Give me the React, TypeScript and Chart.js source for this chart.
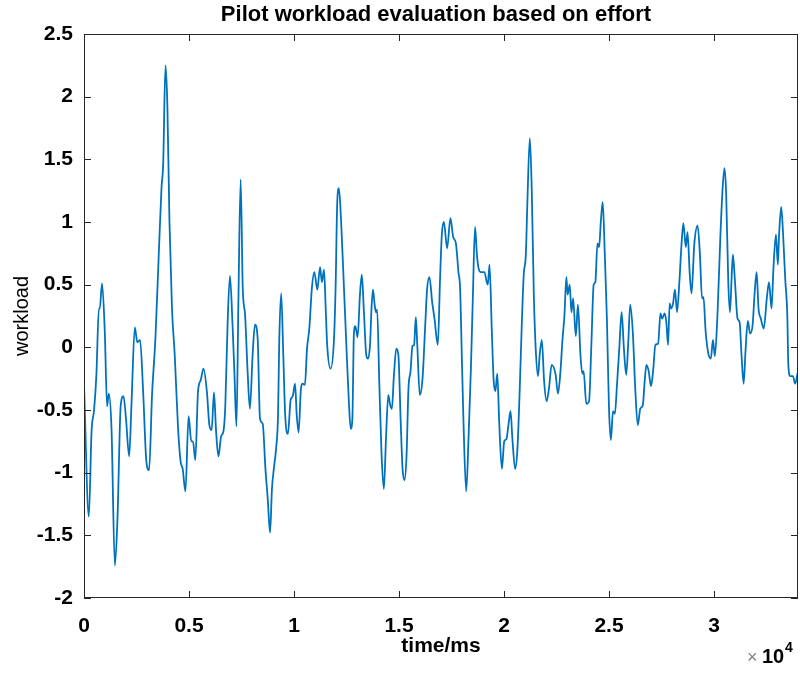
import { useEffect, useRef } from "react";
import { Chart, registerables } from "chart.js";

Chart.register(...registerables);

const chartTitle = "Pilot workload evaluation based on effort";
const xAxisTitle = "time/ms";
const yAxisTitle = "workload";
const xExponent = "4";

const xTickValues = [0, 5000, 10000, 15000, 20000, 25000, 30000];
const xTickLabels = ["0", "0.5", "1", "1.5", "2", "2.5", "3"];
const yTickValues = [-2, -1.5, -1, -0.5, 0, 0.5, 1, 1.5, 2, 2.5];
const yTickLabels = ["-2", "-1.5", "-1", "-0.5", "0", "0.5", "1", "1.5", "2", "2.5"];

const timeMs = [
  0, 230, 360, 480, 590, 710, 750, 860, 990, 1100, 1180, 1310, 1470, 1590, 1750, 1880, 2000, 2150, 2260, 2420,
  2540, 2670, 2810, 2970, 3100, 3240, 3400, 3560, 3690, 3770, 3880, 3970, 4070, 4190, 4320, 4480, 4600, 4700, 4830, 4980,
  5110, 5190, 5300, 5430, 5560, 5690, 5850, 5970, 6080, 6190, 6290, 6400, 6530, 6640, 6730, 6840, 6950, 7080, 7160, 7260,
  7350, 7460, 7560, 7670, 7790, 7900, 8030, 8140, 8270, 8380, 8510, 8640, 8750, 8860, 8950, 9060, 9140, 9240, 9300, 9390,
  9490, 9580, 9710, 9840, 9940, 10050, 10130, 10220, 10330, 10410, 10520, 10620, 10730, 10850, 10970, 11110, 11240, 11330, 11430, 11510,
  11580, 11740, 11900, 11980, 12060, 12140, 12250, 12380, 12500, 12620, 12700, 12780, 12850, 12920, 13030, 13140, 13230, 13330, 13440, 13520,
  13620, 13690, 13760, 13840, 13900, 13960, 14060, 14170, 14280, 14380, 14490, 14580, 14660, 14760, 14870, 14970, 15080, 15170, 15260, 15360,
  15450, 15550, 15640, 15720, 15800, 15870, 15990, 16120, 16250, 16340, 16450, 16580, 16690, 16850, 16950, 17040, 17140, 17290, 17450, 17580,
  17710, 17830, 17910, 17990, 18070, 18200, 18310, 18420, 18520, 18620, 18710, 18790, 18900, 19070, 19180, 19230, 19310, 19420, 19510, 19590,
  19680, 19770, 19900, 20010, 20120, 20210, 20310, 20400, 20530, 20640, 20750, 20850, 20940, 21040, 21110, 21230, 21320, 21420, 21510, 21620,
  21700, 21800, 21910, 22030, 22140, 22270, 22460, 22570, 22690, 22780, 22880, 22970, 23030, 23130, 23210, 23290, 23420, 23520, 23640, 23730,
  23790, 23920, 24050, 24160, 24270, 24350, 24450, 24530, 24610, 24700, 24800, 24900, 25000, 25090, 25190, 25280, 25380, 25490, 25600, 25710,
  25820, 25920, 26010, 26140, 26250, 26370, 26490, 26610, 26700, 26780, 26890, 27000, 27100, 27210, 27340, 27450, 27530, 27650, 27730, 27810,
  27890, 27950, 28050, 28140, 28240, 28350, 28460, 28540, 28660, 28740, 28840, 28930, 29060, 29220, 29330, 29430, 29500, 29600, 29730, 29850,
  29950, 30040, 30170, 30300, 30410, 30500, 30580, 30680, 30760, 30850, 30900, 31000, 31120, 31220, 31310, 31410, 31500, 31610, 31720, 31840,
  31930, 32030, 32120, 32230, 32370, 32520, 32620, 32740, 32830, 32950, 33040, 33100, 33200, 33290, 33390, 33490, 33540, 33630, 33760, 33860,
  34000,
];

const workload = [
  -0.3, -1.35, -0.67, -0.5, -0.22, 0.31, 0.31, 0.51, 0.125, -0.47, -0.37, -0.65, -1.74, -1.39, -0.46, -0.39, -0.57, -0.87, -0.46, 0.16,
  0.04, 0.06, -0.33, -0.91, -0.98, -0.38, 0.07, 0.74, 1.27, 1.46, 2.25, 1.93, 1.0, 0.31, -0.06, -0.65, -0.91, -0.97, -1.15, -0.55,
  -0.75, -0.75, -0.9, -0.35, -0.26, -0.17, -0.35, -0.62, -0.66, -0.36, -0.67, -0.87, -0.71, -0.67, -0.46, 0.2, 0.57, 0.15, -0.19, -0.63,
  0.34, 1.34, 0.47, 0.26, -0.19, -0.49, -0.06, 0.18, 0.07, -0.57, -0.61, -0.97, -1.21, -1.48, -1.13, -0.94, -0.82, -0.54, 0.07, 0.43,
  -0.06, -0.54, -0.69, -0.42, -0.39, -0.29, -0.54, -0.68, -0.33, -0.29, -0.3, -0.01, 0.15, 0.47, 0.6, 0.46, 0.64, 0.52, 0.62, 0.31,
  0.02, -0.17, 0.05, 0.47, 1.16, 1.27, 0.98, 0.47, -0.01, -0.46, -0.65, -0.57, 0.1, 0.17, 0.08, 0.42, 0.58, 0.28, -0.06, -0.09,
  0.02, 0.31, 0.46, 0.34, 0.28, 0.3, -0.27, -0.86, -1.13, -0.73, -0.38, -0.46, -0.49, -0.22, -0.01, -0.06, -0.59, -0.97, -1.06, -0.86,
  -0.33, -0.19, 0.01, 0.02, 0.24, 0.02, -0.38, -0.25, 0.18, 0.47, 0.56, 0.36, 0.23, 0.02, 0.52, 0.9, 1.0, 0.79, 1.03, 0.88,
  0.83, 0.6, 0.47, -0.06, -0.59, -1.15, -0.73, -0.19, 0.42, 0.96, 0.74, 0.63, 0.6, 0.6, 0.52, 0.5, 0.66, 0.13, -0.27, -0.35,
  -0.21, -0.59, -0.97, -0.75, -0.73, -0.62, -0.51, -0.73, -0.97, -0.81, -0.33, 0.2, 0.58, 0.74, 1.14, 1.67, 1.27, 0.42, -0.01, -0.23,
  -0.06, 0.06, -0.27, -0.43, -0.33, -0.14, -0.22, -0.37, -0.19, 0.05, 0.26, 0.56, 0.42, 0.5, 0.28, 0.39, 0.09, 0.34, -0.06, -0.21,
  -0.19, -0.45, -0.43, 0.02, 0.5, 0.52, 0.83, 0.8, 1.0, 1.16, 0.74, 0.23, -0.49, -0.74, -0.51, -0.53, -0.3, -0.01, 0.28, -0.01,
  -0.22, 0.05, 0.34, 0.1, -0.33, -0.62, -0.49, -0.46, -0.27, -0.14, -0.19, -0.31, -0.19, 0.02, 0.03, 0.27, 0.23, 0.27, 0.2, 0.02,
  0.35, 0.31, 0.35, 0.46, 0.28, 0.52, 0.84, 0.99, 0.8, 0.92, 0.6, 0.43, 0.82, 0.97, 0.74, 0.39, 0.4, 0.13, -0.05, -0.09,
  0.06, -0.07, 0.28, 0.87, 1.27, 1.43, 1.22, 0.52, 0.28, 0.6, 0.74, 0.52, 0.23, 0.2, -0.06, -0.29, -0.03, 0.21, 0.11, 0.18,
  0.42, 0.6, 0.31, 0.23, 0.15, 0.4, 0.52, 0.31, 0.63, 0.9, 0.66, 0.9, 1.12, 0.9, 0.55, 0.26, -0.14, -0.23, -0.23, -0.29,
  -0.19,
];

const FONT = "'Liberation Sans', Arial, sans-serif";
const AXIS_COLOR = "#262626";
const LINE_COLOR = "#0072BD";

const decorPlugin = {
  id: "matlabDecor",
  afterDraw(chart: any) {
    const { ctx, chartArea } = chart;
    const { left, right, top, bottom } = chartArea;
    const xs = chart.scales.x;
    const ys = chart.scales.y;
    const tickLen = 7;
    ctx.save();
    ctx.strokeStyle = AXIS_COLOR;
    ctx.lineWidth = 1;
    ctx.beginPath();
    xTickValues.forEach((v) => {
      const px = Math.round(xs.getPixelForValue(v)) + 0.5;
      ctx.moveTo(px, bottom);
      ctx.lineTo(px, bottom - tickLen);
      ctx.moveTo(px, top);
      ctx.lineTo(px, top + tickLen);
    });
    yTickValues.forEach((v) => {
      const py = Math.round(ys.getPixelForValue(v)) + 0.5;
      ctx.moveTo(left, py);
      ctx.lineTo(left + tickLen, py);
      ctx.moveTo(right, py);
      ctx.lineTo(right - tickLen, py);
    });
    ctx.stroke();
    ctx.strokeRect(Math.round(left) + 0.5, Math.round(top) + 0.5, Math.round(right - left) - 1, Math.round(bottom - top) - 1);

    const cx = (left + right) / 2;
    ctx.fillStyle = "#000";
    ctx.textAlign = "center";
    ctx.textBaseline = "middle";
    ctx.font = `bold 22px ${FONT}`;
    ctx.fillText(chartTitle, cx - 5, 15);

    ctx.font = `bold 21px ${FONT}`;
    ctx.fillText(xAxisTitle, cx, 646);

    ctx.save();
    ctx.translate(22, (top + bottom) / 2);
    ctx.rotate(-Math.PI / 2);
    ctx.font = `20px ${FONT}`;
    ctx.fillText(yAxisTitle, 0, 0);
    ctx.restore();

    // x10^4 multiplier
    ctx.textAlign = "left";
    ctx.fillStyle = "#808080";
    ctx.font = `18px ${FONT}`;
    ctx.fillText("\u00d7", 747, 658);
    ctx.fillStyle = "#000";
    ctx.font = `bold 20px ${FONT}`;
    ctx.fillText("10", 762, 657);
    ctx.font = `bold 14px ${FONT}`;
    ctx.fillText(xExponent, 785, 648);
    ctx.restore();
  },
};

export default function App() {
  const canvasRef = useRef<HTMLCanvasElement | null>(null);

  useEffect(() => {
    document.body.style.margin = "0";
    const canvas = canvasRef.current;
    if (!canvas) return;
    const points = timeMs.map((t, i) => ({ x: t, y: workload[i] }));
    const tickFont = { family: FONT, size: 21, weight: "bold" as const };
    const chart = new Chart(canvas, {
      type: "line",
      data: {
        datasets: [
          {
            data: points,
            borderColor: LINE_COLOR,
            borderWidth: 1.8,
            pointRadius: 0,
            fill: false,
            cubicInterpolationMode: "monotone",
          },
        ],
      },
      options: {
        responsive: false,
        animation: false,
        devicePixelRatio: 1,
        layout: { padding: { top: 34, right: 2, left: 0, bottom: 0 } },
        plugins: { legend: { display: false }, tooltip: { enabled: false }, title: { display: false } },
        scales: {
          x: {
            type: "linear",
            min: 0,
            max: 34000,
            grid: { display: false, drawTicks: false },
            border: { display: false },
            afterBuildTicks: (axis: any) => {
              axis.ticks = xTickValues.map((v) => ({ value: v }));
            },
            afterFit: (axis: any) => {
              axis.height = 78;
            },
            ticks: {
              autoSkip: false,
              maxRotation: 0,
              padding: 16,
              color: "#000",
              font: tickFont,
              callback: (v: any) => {
                const i = xTickValues.indexOf(Number(v));
                return i >= 0 ? xTickLabels[i] : "";
              },
            },
          },
          y: {
            type: "linear",
            min: -2,
            max: 2.5,
            grid: { display: false, drawTicks: false },
            border: { display: false },
            afterBuildTicks: (axis: any) => {
              axis.ticks = yTickValues.map((v) => ({ value: v }));
            },
            afterFit: (axis: any) => {
              axis.width = 84;
            },
            ticks: {
              autoSkip: false,
              padding: 11,
              color: "#000",
              font: tickFont,
              callback: (v: any) => {
                const i = yTickValues.indexOf(Number(v));
                return i >= 0 ? yTickLabels[i] : "";
              },
            },
          },
        },
      },
      plugins: [decorPlugin],
    });
    return () => chart.destroy();
  }, []);

  return (
    <div style={{ width: 800, height: 676, background: "#fff" }}>
      <canvas ref={canvasRef} width={800} height={676} style={{ display: "block" }} />
    </div>
  );
}
